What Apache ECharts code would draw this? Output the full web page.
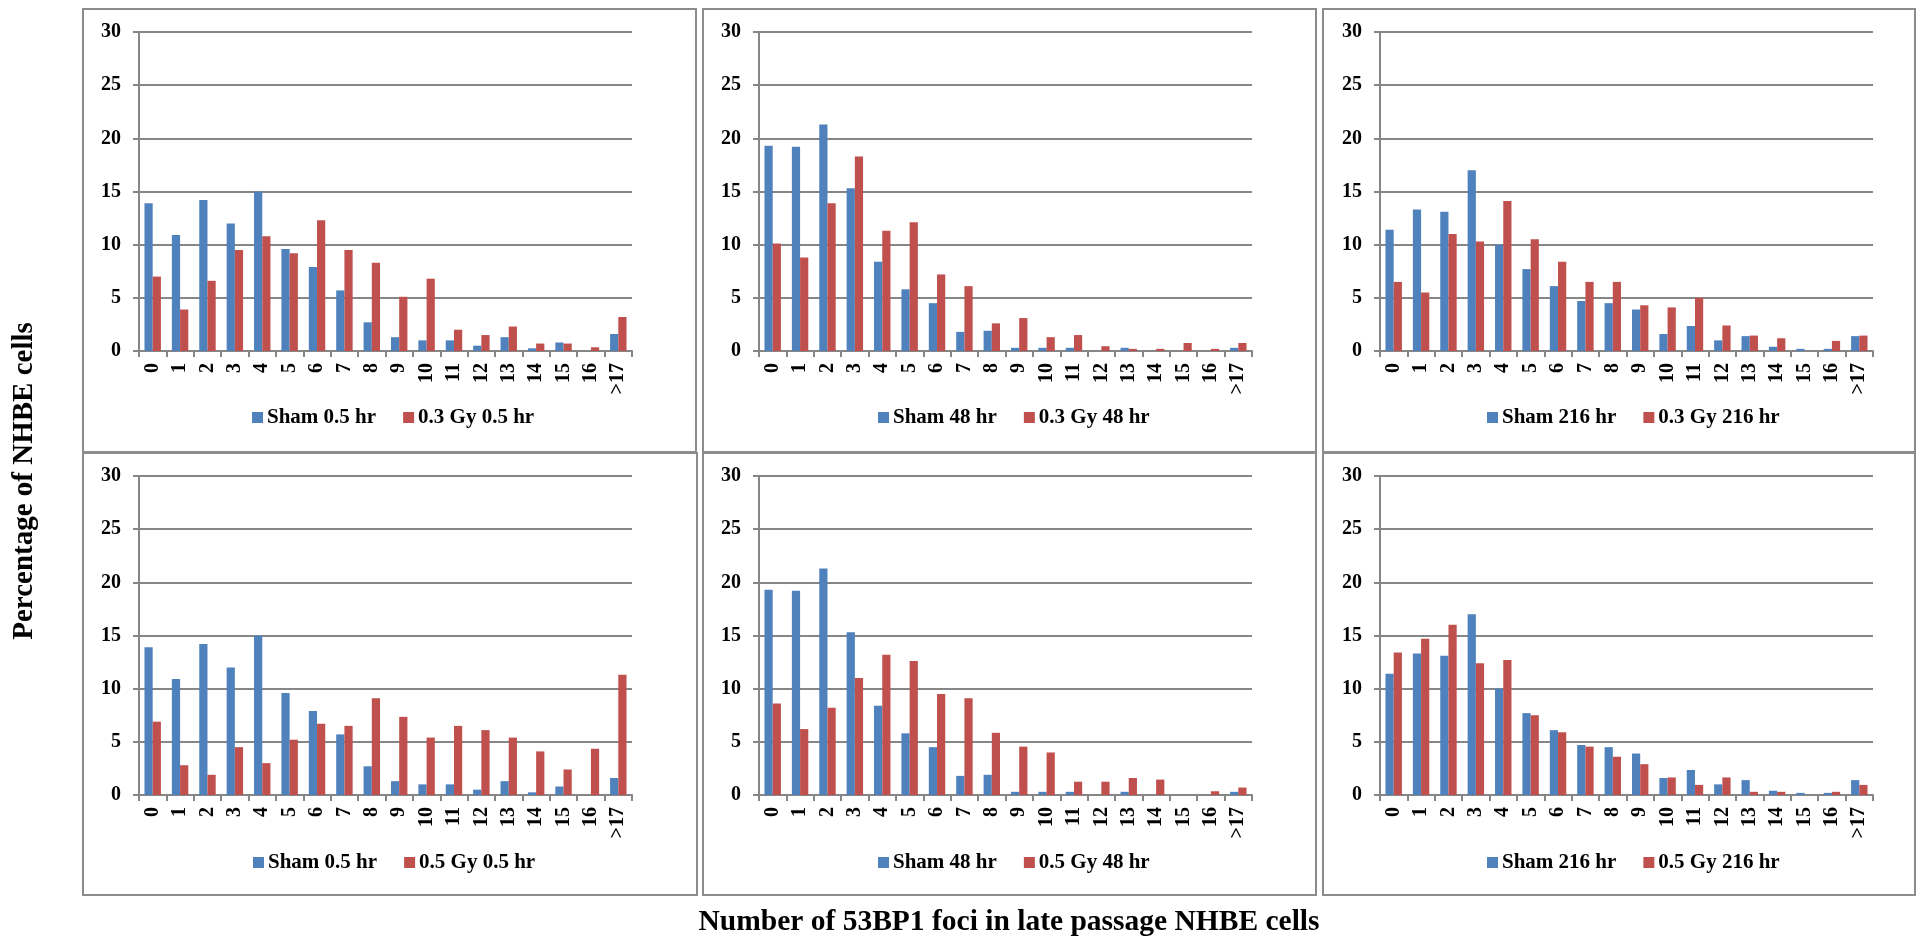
<!DOCTYPE html>
<html>
<head>
<meta charset="utf-8">
<script src="https://cdn.jsdelivr.net/npm/echarts@6/dist/echarts.min.js"></script>
<style>
  html, body { margin: 0; padding: 0; background: #fff; }
  #chart { width: 1919px; height: 937px; }
</style>
</head>
<body>
<div id="chart"></div>
<script>
// Foci-count bins (x categories)
const categories = ['0','1','2','3','4','5','6','7','8','9','10','11','12','13','14','15','16','>17'];
// Y axis ticks (percentage of cells)
const yMin = 0, yMax = 30, yStep = 5;

// Sham controls at each time point
const sham05  = [13.9, 10.9, 14.2, 12.0, 15.0, 9.6, 7.9, 5.7, 2.7, 1.3, 1.0, 1.0, 0.5, 1.3, 0.25, 0.8, 0, 1.6];
const sham48  = [19.3, 19.2, 21.3, 15.3, 8.4, 5.8, 4.5, 1.8, 1.9, 0.3, 0.3, 0.3, 0, 0.3, 0, 0, 0, 0.3];
const sham216 = [11.4, 13.3, 13.1, 17.0, 10.0, 7.7, 6.1, 4.7, 4.5, 3.9, 1.6, 2.35, 1.0, 1.4, 0.4, 0.2, 0.2, 1.4];

// 0.3 Gy exposures
const gy03_05  = [7.0, 3.9, 6.6, 9.5, 10.8, 9.2, 12.3, 9.5, 8.3, 5.1, 6.8, 2.0, 1.5, 2.3, 0.7, 0.7, 0.35, 3.2];
const gy03_48  = [10.1, 8.8, 13.9, 18.3, 11.3, 12.1, 7.2, 6.1, 2.6, 3.1, 1.3, 1.5, 0.45, 0.2, 0.2, 0.75, 0.2, 0.75];
const gy03_216 = [6.5, 5.5, 11.0, 10.3, 14.1, 10.5, 8.4, 6.5, 6.5, 4.3, 4.1, 5.0, 2.4, 1.45, 1.2, 0, 0.95, 1.45];

// 0.5 Gy exposures
const gy05_05  = [6.9, 2.8, 1.9, 4.5, 3.0, 5.2, 6.7, 6.5, 9.1, 7.35, 5.4, 6.5, 6.1, 5.4, 4.1, 2.4, 4.35, 11.3];
const gy05_48  = [8.6, 6.2, 8.2, 11.0, 13.2, 12.6, 9.5, 9.1, 5.85, 4.55, 4.0, 1.25, 1.25, 1.6, 1.45, 0, 0.35, 0.7];
const gy05_216 = [13.4, 14.7, 16.0, 12.4, 12.7, 7.5, 5.9, 4.55, 3.6, 2.9, 1.65, 0.95, 1.65, 0.3, 0.3, 0, 0.3, 0.95];

const FONT = '"Liberation Serif", "Times New Roman", serif';
const BLUE = '#4F81BD';
const RED = '#C0504D';
const LINE = '#868686';
const FRAME = '#8c8c8c';

// Panel layout: series pair, plot rectangle, legend anchor and frame box
const panels = [
  { names: ['Sham 0.5 hr', '0.3 Gy 0.5 hr'], data: [sham05, gy03_05],   left: 139,  top: 32,  legendLeft: 252,  legendTop: 407, frame: [83, 9, 613, 443] },
  { names: ['Sham 48 hr', '0.3 Gy 48 hr'],   data: [sham48, gy03_48],   left: 759,  top: 32,  legendLeft: 878,  legendTop: 407, frame: [703, 9, 613, 443] },
  { names: ['Sham 216 hr', '0.3 Gy 216 hr'], data: [sham216, gy03_216], left: 1380, top: 32,  legendLeft: 1487, legendTop: 407, frame: [1323, 9, 592, 443] },
  { names: ['Sham 0.5 hr', '0.5 Gy 0.5 hr'], data: [sham05, gy05_05],   left: 139,  top: 476, legendLeft: 253,  legendTop: 852, frame: [83, 453, 614, 442] },
  { names: ['Sham 48 hr', '0.5 Gy 48 hr'],   data: [sham48, gy05_48],   left: 759,  top: 476, legendLeft: 878,  legendTop: 852, frame: [703, 453, 613, 442] },
  { names: ['Sham 216 hr', '0.5 Gy 216 hr'], data: [sham216, gy05_216], left: 1380, top: 476, legendLeft: 1487, legendTop: 852, frame: [1323, 453, 592, 442] }
];
const PLOT_W = 493, PLOT_H = 319;

const labelStyle = { fontFamily: FONT, fontWeight: 'bold', fontSize: 20, color: '#000' };

const grid = [], xAxis = [], yAxis = [], series = [], legend = [], graphic = [];

panels.forEach((p, i) => {
  grid.push({ left: p.left, top: p.top, width: PLOT_W, height: PLOT_H, containLabel: false });

  xAxis.push({
    type: 'category', gridIndex: i, data: categories,
    axisLine: { show: true, lineStyle: { color: LINE, width: 2 } },
    axisTick: { show: true, interval: 0, length: 6, lineStyle: { color: LINE, width: 2 } },
    axisLabel: Object.assign({ rotate: 90, interval: 0, margin: 12 }, labelStyle),
    splitLine: { show: false }
  });

  yAxis.push({
    type: 'value', gridIndex: i, min: yMin, max: yMax, interval: yStep,
    axisLine: { show: true, lineStyle: { color: LINE, width: 2 } },
    axisTick: { show: true, length: 6, lineStyle: { color: LINE, width: 2 } },
    axisLabel: Object.assign({ margin: 18 }, labelStyle),
    splitLine: { show: true, lineStyle: { color: LINE, width: 2 } }
  });

  [BLUE, RED].forEach((c, k) => {
    series.push({
      type: 'bar', name: p.names[k], xAxisIndex: i, yAxisIndex: i,
      data: p.data[k], barGap: '0%', barCategoryGap: '40%',
      itemStyle: { color: c }
    });
  });

  legend.push({
    data: p.names, left: p.legendLeft, top: p.legendTop, padding: 0,
    icon: 'rect', itemWidth: 11, itemHeight: 11, itemGap: 27,
    selectedMode: false,
    textStyle: { fontFamily: FONT, fontWeight: 'bold', fontSize: 21, color: '#000', padding: [0, 0, 0, -1] }
  });

  const [fx, fy, fw, fh] = p.frame;
  graphic.push({
    type: 'rect', silent: true, z: -1,
    shape: { x: fx, y: fy, width: fw, height: fh },
    style: { fill: 'none', stroke: FRAME, lineWidth: 2 }
  });
});

graphic.push({
  type: 'text', x: 25, y: 481, rotation: Math.PI / 2,
  style: { text: 'Percentage of NHBE cells', font: 'bold 29px ' + FONT, fill: '#000', align: 'center', verticalAlign: 'middle' }
});
graphic.push({
  type: 'text', x: 1009, y: 922,
  style: { text: 'Number of 53BP1 foci in late passage NHBE cells', font: 'bold 29.5px ' + FONT, fill: '#000', align: 'center', verticalAlign: 'middle' }
});

const chart = echarts.init(document.getElementById('chart'), null, { renderer: 'canvas' });
chart.setOption({
  animation: false,
  backgroundColor: '#fff',
  grid, xAxis, yAxis, series, legend, graphic
});
</script>
</body>
</html>
